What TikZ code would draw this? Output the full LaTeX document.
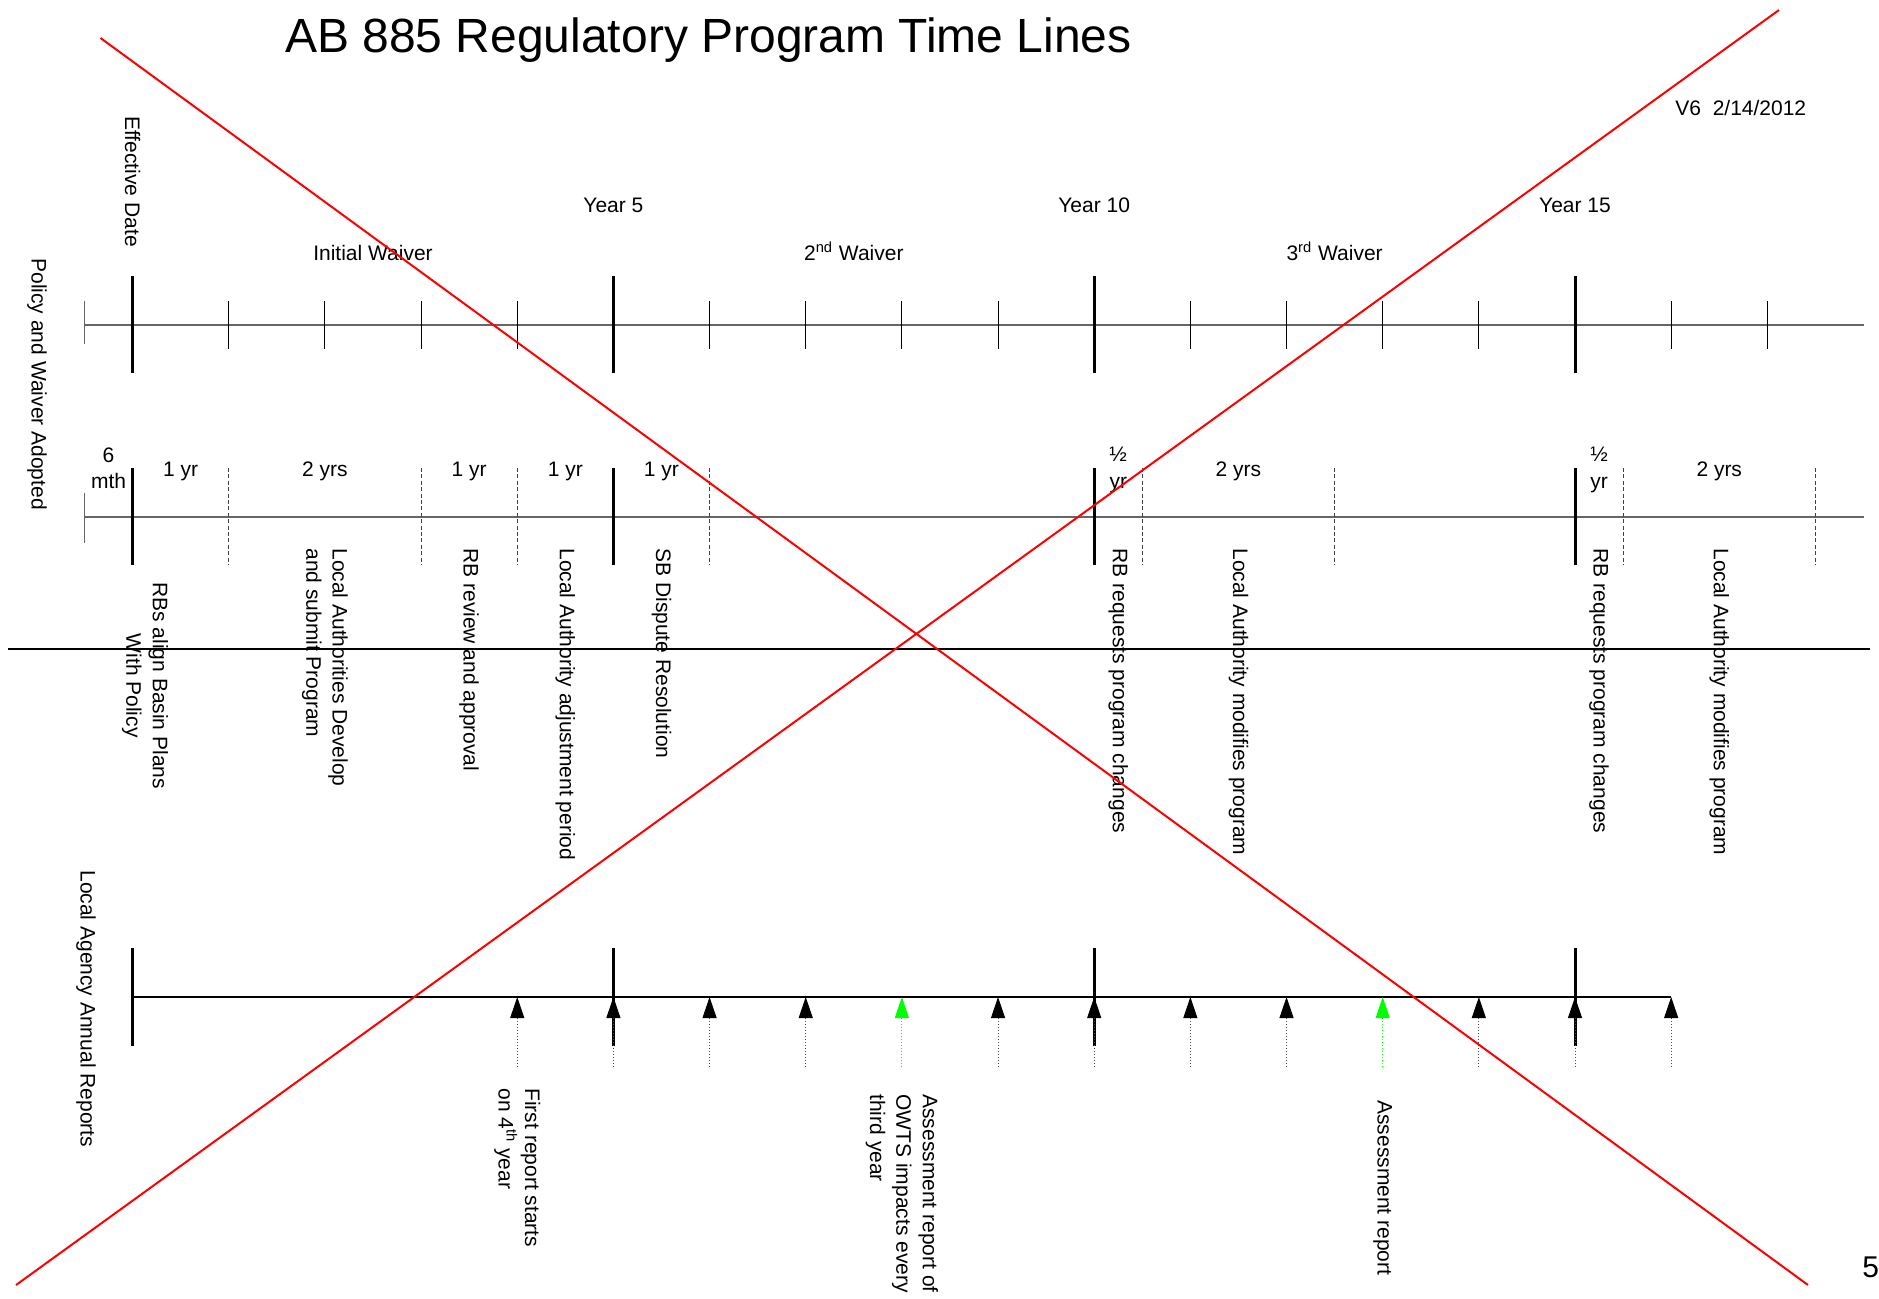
\documentclass[tikz,border=0pt]{standalone}
\usepackage{fontspec}
\setmainfont{Liberation Sans}
\usetikzlibrary{arrows.meta, positioning}

\begin{document}
\begin{tikzpicture}[
    x=0.5pt, y=-0.5pt,
    font=\fontsize{10.5}{13.2}\selectfont,
    axis/.style={draw=black!60, line width=0.7pt},
    endtick/.style={draw=black!60, line width=0.6pt},
    major/.style={draw=black, line width=1.5pt},
    minor/.style={draw=black, line width=0.5pt},
    phase/.style={draw=black!75, line width=0.5pt, dash pattern=on 2pt off 1.2pt},
    reportline/.style={draw=black, line width=0.6pt},
    report/.style={draw=black!70, line width=0.5pt, densely dotted, -{Triangle[length=10.5pt, width=7pt, color=black]}},
    assess/.style={draw=green, line width=0.5pt, densely dotted, -{Triangle[length=10.5pt, width=7pt, color=green]}},
    lbl/.style={inner sep=0pt},
    vlbl/.style={inner sep=0pt, rotate=-90, anchor=west},
    divider/.style={draw=black, line width=1.1pt},
    cross/.style={draw=red, line width=1pt}
]

\fill[white] (0,0) rectangle (1879,1298);
\useasboundingbox (0,0) rectangle (1879,1298);

% Title and version
\node[lbl, anchor=base, font=\fontsize{24}{28}\selectfont] (title) at (708.5,52) {AB 885 Regulatory Program Time Lines};
\node[lbl, anchor=base west] (version) at (1675,115) {V6\ \ 2/14/2012};

% Row captions
\node[vlbl] (policy) at (37,258) {Policy and Waiver Adopted};
\node[vlbl] (agency) at (86,870) {Local Agency Annual Reports};

% Time lines, one unit = one year
\begin{scope}[shift={(132.6,0)}, x=48.08pt]

% Row 1: waiver periods
\draw[axis] (-0.5,325) -- (18,325);
\draw[endtick] (-0.5,301) -- (-0.5,344);
\foreach \t in {0,5,10,15} \draw[major] (\t,276) -- (\t,373);
\foreach \t in {1,2,3,4,6,7,8,9,11,12,13,14,16,17} \draw[minor] (\t,301) -- (\t,349);

\node[vlbl] (effective) at (0,116) {Effective Date};
\node[lbl, anchor=base] (year5) at (5,212) {Year 5};
\node[lbl, anchor=base] (year10) at (10,212) {Year 10};
\node[lbl, anchor=base] (year15) at (15,212) {Year 15};
\node[lbl, anchor=base] (waiver1) at (2.5,260) {Initial Waiver};
\node[lbl, anchor=base] (waiver2) at (7.5,260) {2\textsuperscript{nd} Waiver};
\node[lbl, anchor=base] (waiver3) at (12.5,260) {3\textsuperscript{rd} Waiver};

% Row 2: program steps
\draw[axis] (-0.5,517) -- (18,517);
\draw[endtick] (-0.5,493) -- (-0.5,543);
\foreach \t in {0,5,10,15} \draw[major] (\t,468) -- (\t,565);
\foreach \t in {1,3,4,6,10.5,12.5,15.5,17.5} \draw[phase] (\t,468) -- (\t,565);

\node[lbl, align=center] (sixmth) at (-0.25,468) {6\\mth};
\node[lbl, anchor=base] (dur1) at (0.5,476) {1 yr};
\node[lbl, anchor=base] (dur2) at (2,476) {2 yrs};
\node[lbl, anchor=base] (dur3) at (3.5,476) {1 yr};
\node[lbl, anchor=base] (dur4) at (4.5,476) {1 yr};
\node[lbl, anchor=base] (dur5) at (5.5,476) {1 yr};
\node[lbl, align=center] (half1) at (10.25,470) {½\\yr};
\node[lbl, anchor=base] (dur6) at (11.5,476) {2 yrs};
\node[lbl, align=center] (half2) at (15.25,470) {½\\yr};
\node[lbl, anchor=base] (dur7) at (16.5,476) {2 yrs};

\node[vlbl, align=center] (align) at (0.13,582) {RBs align Basin Plans\\With Policy};
\node[vlbl, align=left] (develop) at (2,548) {Local Authorities Develop\\and submit Program};
\node[vlbl] (review) at (3.5,548) {RB review and approval};
\node[vlbl] (adjust) at (4.5,548) {Local Authority adjustment period};
\node[vlbl] (dispute) at (5.5,548) {SB Dispute Resolution};
\node[vlbl] (request1) at (10.25,548) {RB requests program changes};
\node[vlbl] (modify1) at (11.5,548) {Local Authority modifies program};
\node[vlbl] (request2) at (15.25,548) {RB requests program changes};
\node[vlbl] (modify2) at (16.5,548) {Local Authority modifies program};

% Row 3: annual reports
\draw[reportline] (0,997) -- (16,997);
\foreach \t in {0,5,10,15} \draw[major] (\t,948) -- (\t,1046);
\foreach \t in {4,5,6,7,9,10,11,12,14,15,16} \draw[report] (\t,1067) -- (\t,997);
\foreach \t in {8,13} \draw[assess] (\t,1067) -- (\t,997);

\node[vlbl, align=left] (first) at (4,1088) {First report starts\\on 4\textsuperscript{th} year};
\node[vlbl, align=left] (owts) at (8,1094) {Assessment report of\\OWTS impacts every\\third year};
\node[vlbl] (assessment) at (13,1100) {Assessment report};

\end{scope}

% Divider and page number
\draw[divider] (8,649) -- (1870,649);
\node[lbl, anchor=base west, font=\fontsize{15}{18}\selectfont] (page) at (1862,1277) {5};

% Cross-out
\draw[cross] (100.5,38) -- (1808,1285);
\draw[cross] (16,1285) -- (1779,10);

\end{tikzpicture}
\end{document}
